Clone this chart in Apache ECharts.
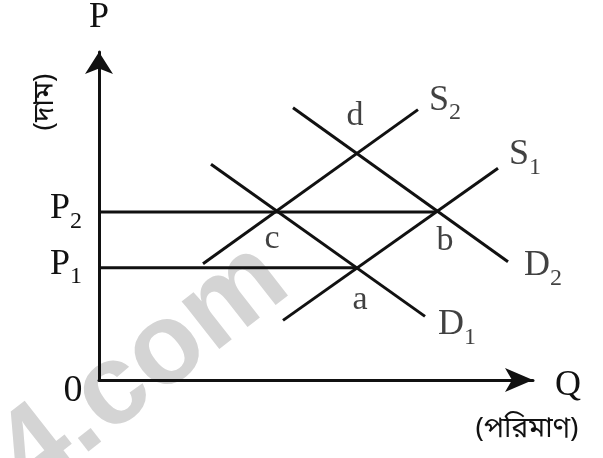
<!DOCTYPE html>
<html>
<head>
<meta charset="utf-8">
<script src="https://cdn.jsdelivr.net/npm/echarts@6/dist/echarts.min.js"></script>
<style>
html,body{margin:0;padding:0;background:#fff;}
#chart{width:603px;height:458px;}
</style>
</head>
<body>
<div id="chart"></div>
<script>
// ---- data (chart units) ----
const supply1 = [[46, 15], [99.75, 53.25]];
const supply2 = [[26, 29.25], [79.75, 68]];
const demand1 = [[28, 54.25], [81.5, 16]];
const demand2 = [[48.5, 68.5], [102.25, 29.75]];
const priceP1 = 28.25;
const priceP2 = 42.25;
const pointNames = ['a', 'b', 'c', 'd'];
const pointQ = [64, 84, 44.5, 64];
const pointP = [28, 42.25, 42.5, 57.75];
const curveNames = ['S2', 'S1', 'D2', 'D1'];
const axisNames = ['P', 'Q', '0', '(দাম)', '(পরিমাণ)'];

const SERIF = '"Liberation Serif", "DejaVu Serif", serif';
const BN = '"Noto Sans Bengali","Noto Serif Bengali","Lohit Bengali","FreeSerif","Noto Sans",sans-serif';
const INK = '#111';

function sub(name) {
  return '{m|' + name.charAt(0) + '}{s|' + name.slice(1) + '}';
}
const richSub = {
  m: { fontFamily: SERIF, fontSize: 36, color: INK, verticalAlign: 'bottom', padding: [0, 0, 7, 0] },
  s: { fontFamily: SERIF, fontSize: 24, color: INK, verticalAlign: 'bottom' }
};

function lineSeries(data) {
  return {
    type: 'line', data: data, symbol: 'none', silent: true, animation: false,
    lineStyle: { color: INK, width: 3 }, z: 3
  };
}

const curveEnds = [supply2[1], supply1[1], demand2[1], demand1[1]];
const curveOffsets = [[27, -6], [27, -10], [35, 7], [32, 12]];
const pointOffsets = [[5, 31], [10, 29], [-5, 28], [0, -34]];

const chart = echarts.init(document.getElementById('chart'), null, { renderer: 'canvas' });
chart.setOption({
  backgroundColor: '#fff',
  animation: false,
  grid: { left: 99, right: 70, top: 50, bottom: 78 },
  xAxis: {
    type: 'value', min: 0, max: 108.5,
    name: axisNames[1], nameLocation: 'end', nameGap: 22,
    nameTextStyle: { fontFamily: SERIF, fontSize: 36, color: INK, verticalAlign: 'top', lineHeight: 12 },
    axisLine: { show: true, lineStyle: { color: INK, width: 3 }, symbol: ['none', 'arrow'], symbolSize: [18, 28] },
    axisTick: { show: false }, axisLabel: { show: false }, splitLine: { show: false }
  },
  yAxis: {
    type: 'value', min: 0, max: 82.5,
    name: axisNames[0], nameLocation: 'end', nameGap: 16,
    nameTextStyle: { fontFamily: SERIF, fontSize: 36, color: INK },
    axisLine: { show: true, lineStyle: { color: INK, width: 3 }, symbol: ['none', 'arrow'], symbolSize: [21, 22] },
    axisTick: { show: false }, splitLine: { show: false },
    axisLabel: {
      show: true, customValues: [priceP1, priceP2], margin: 17,
      formatter: function (v) { return v === priceP1 ? sub('P1') : sub('P2'); },
      rich: richSub
    }
  },
  graphic: [
    {
      type: 'text', z: 0, x: 118, y: 388, rotation: 38 * Math.PI / 180,
      style: { text: '24.com', font: 'bold 115px "Liberation Sans", Arial, sans-serif', fill: '#d4d4d4', align: 'center', verticalAlign: 'middle' }
    },
    {
      type: 'text', z: 10, x: 73, y: 391,
      style: { text: axisNames[2], font: '38px ' + SERIF, fill: INK, align: 'center', verticalAlign: 'middle' }
    },
    {
      type: 'text', z: 10, x: 48, y: 102, rotation: Math.PI / 2,
      style: { text: axisNames[3], font: '28px ' + BN, fill: INK, align: 'center', verticalAlign: 'middle' }
    },
    {
      type: 'text', z: 10, x: 527, y: 432,
      style: { text: axisNames[4], font: '28px ' + BN, fill: INK, align: 'center', verticalAlign: 'middle' }
    }
  ],
  series: [
    lineSeries(supply1),
    lineSeries(supply2),
    lineSeries(demand1),
    lineSeries(demand2),
    lineSeries([[0, priceP2], [pointQ[1], priceP2]]),
    lineSeries([[0, priceP1], [pointQ[0], priceP1]]),
    {
      type: 'scatter', symbolSize: 0, silent: true, animation: false, z: 5,
      data: pointNames.map(function (n, i) {
        return {
          value: [pointQ[i], pointP[i]], name: n,
          label: { show: true, position: 'inside', offset: pointOffsets[i], formatter: n,
                   fontFamily: SERIF, fontSize: 34, color: INK }
        };
      })
    },
    {
      type: 'scatter', symbolSize: 0, silent: true, animation: false, z: 5,
      data: curveNames.map(function (n, i) {
        return {
          value: curveEnds[i], name: n,
          label: { show: true, position: 'inside', offset: curveOffsets[i], formatter: sub(n), rich: richSub }
        };
      })
    }
  ]
});
</script>
</body>
</html>
